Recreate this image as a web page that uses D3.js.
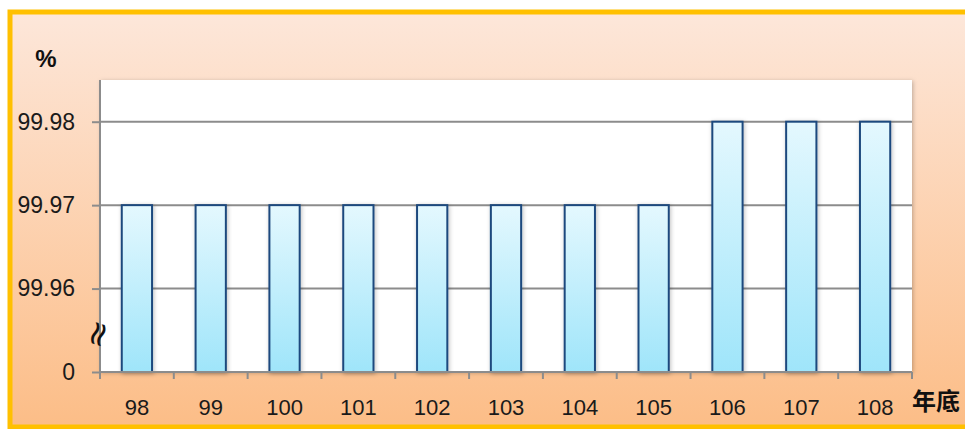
<!DOCTYPE html>
<html>
<head>
<meta charset="utf-8">
<script src="https://cdn.jsdelivr.net/npm/d3@7"></script>
<style>
  html, body { margin: 0; padding: 0; background: #fff; }
  svg { display: block; }
</style>
</head>
<body>
<svg id="chart" width="965" height="429"></svg>
<script>
// Chart data
const years = ['98', '99', '100', '101', '102', '103', '104', '105', '106', '107', '108'];
const values = [99.97, 99.97, 99.97, 99.97, 99.97, 99.97, 99.97, 99.97, 99.98, 99.98, 99.98];
// y axis has a break: the bottom tick "0" sits where 99.95 would be
const yTicks = [99.95, 99.96, 99.97, 99.98];
const yTickLabels = ['0', '99.96', '99.97', '99.98'];

const svg = d3.select('#chart');
const defs = svg.append('defs');

// Panel background gradient
const bg = defs.append('linearGradient').attr('id', 'bgGrad')
    .attr('x1', 0).attr('y1', 0).attr('x2', 0).attr('y2', 1);
bg.append('stop').attr('offset', '0%').attr('stop-color', '#fde7da');
bg.append('stop').attr('offset', '100%').attr('stop-color', '#fcbd87');

// Bar gradient
const barGrad = defs.append('linearGradient').attr('id', 'barGrad')
    .attr('x1', 0).attr('y1', 0).attr('x2', 0).attr('y2', 1);
barGrad.append('stop').attr('offset', '0%').attr('stop-color', '#e4f8fe');
barGrad.append('stop').attr('offset', '100%').attr('stop-color', '#9fe5fa');

// Soft shadow
const shadow = defs.append('filter').attr('id', 'shadow')
    .attr('x', '-20%').attr('y', '-20%').attr('width', '140%').attr('height', '140%');
shadow.append('feDropShadow').attr('dx', 1).attr('dy', 1)
    .attr('stdDeviation', 2).attr('flood-color', '#000').attr('flood-opacity', 0.25);

// Outer panel with orange border
svg.append('rect')
    .attr('x', 10).attr('y', 12)
    .attr('width', 1000).attr('height', 415)
    .attr('fill', 'url(#bgGrad)')
    .attr('stroke', '#ffc000')
    .attr('stroke-width', 5);

const margin = { left: 100, top: 80, right: 53, bottom: 57 };
const width = 965 - margin.left - margin.right;
const height = 429 - margin.top - margin.bottom;

const g = svg.append('g').attr('transform', `translate(${margin.left},${margin.top})`);

// Plot area
g.append('rect')
    .attr('width', width).attr('height', height)
    .attr('fill', '#fff')
    .attr('filter', 'url(#shadow)');

const x = d3.scaleBand().domain(years).range([0, width]).paddingInner(0.59).paddingOuter(0.295);
const y = d3.scaleLinear().domain([99.95, 99.985]).range([height, 0]);

// Gridlines
g.append('g')
    .selectAll('line')
    .data(yTicks.slice(1))
    .join('line')
    .attr('x1', 0).attr('x2', width)
    .attr('y1', d => y(d)).attr('y2', d => y(d))
    .attr('stroke', '#8c8c8c')
    .attr('stroke-width', 2);

// Bars
g.append('g')
    .selectAll('rect')
    .data(values)
    .join('rect')
    .attr('x', (d, i) => x(years[i]))
    .attr('y', d => y(d))
    .attr('width', x.bandwidth())
    .attr('height', d => height - y(d))
    .attr('fill', 'url(#barGrad)')
    .attr('stroke', '#1f4a7e')
    .attr('stroke-width', 2)
    .attr('filter', 'url(#shadow)');

// Y axis
const yAxis = d3.axisLeft(y)
    .tickValues(yTicks)
    .tickFormat((d, i) => yTickLabels[i])
    .tickSize(8)
    .tickPadding(17)
    .tickSizeOuter(0);
const yAxisG = g.append('g').call(yAxis);
yAxisG.select('.domain').attr('stroke', '#8c8c8c').attr('stroke-width', 2)
    .attr('d', `M0,0V${height + 6}`);
yAxisG.selectAll('.tick line').attr('stroke', '#8c8c8c').attr('stroke-width', 2);
yAxisG.selectAll('.tick text')
    .attr('font-family', 'Liberation Sans, Arial, sans-serif')
    .attr('font-size', 23)
    .attr('fill', '#1a1a1a');

// X axis: ticks on category boundaries
const xAxisG = g.append('g').attr('transform', `translate(0,${height})`);
xAxisG.append('line')
    .attr('x1', 0).attr('x2', width)
    .attr('stroke', '#8c8c8c').attr('stroke-width', 2);
const step = x.step();
xAxisG.selectAll('.xtick')
    .data(d3.range(years.length + 1))
    .join('line')
    .attr('class', 'xtick')
    .attr('x1', i => i * step).attr('x2', i => i * step)
    .attr('y1', 0).attr('y2', 7)
    .attr('stroke', '#8c8c8c').attr('stroke-width', 2);
xAxisG.selectAll('.xlabel')
    .data(years)
    .join('text')
    .attr('class', 'xlabel')
    .attr('x', d => x(d) + x.bandwidth() / 2)
    .attr('y', 43)
    .attr('text-anchor', 'middle')
    .attr('font-family', 'Liberation Sans, Arial, sans-serif')
    .attr('font-size', 22)
    .attr('fill', '#1a1a1a')
    .text(d => d);

// Axis break symbol
g.append('text')
    .attr('transform', `translate(-3,${y(99.9546)}) rotate(-72)`)
    .attr('text-anchor', 'middle')
    .attr('dominant-baseline', 'central')
    .attr('font-family', 'DejaVu Sans, sans-serif')
    .attr('font-size', 34)
    .attr('fill', '#111')
    .text('≈');

// Unit labels
svg.append('text')
    .attr('x', 46).attr('y', 67)
    .attr('text-anchor', 'middle')
    .attr('font-family', 'Liberation Sans, Arial, sans-serif')
    .attr('font-size', 24)
    .attr('font-weight', 'bold')
    .attr('fill', '#111')
    .text('%');

svg.append('text')
    .attr('x', 936).attr('y', 410)
    .attr('text-anchor', 'middle')
    .attr('font-family', 'Noto Sans CJK TC, sans-serif')
    .attr('font-size', 24)
    .attr('font-weight', 'bold')
    .attr('fill', '#111')
    .text('年底');
</script>
</body>
</html>
